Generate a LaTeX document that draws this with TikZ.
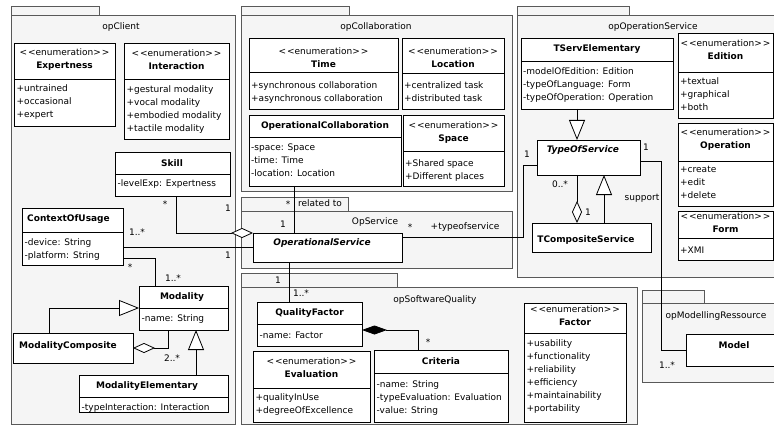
\documentclass[tikz,border=0pt]{standalone}
\usepackage{fontspec}
\setmainfont{DejaVu Sans}
\usetikzlibrary{arrows.meta,positioning,calc}
\newcommand{\stereo}{<\kern1pt<enumeration>\kern1pt>}

\tikzset{
  pkg/.style={draw=black!65, fill=gray!8, line width=0.8pt},
  cls/.style={draw, fill=white, line width=0.8pt, anchor=north west, inner sep=0pt, outer sep=0pt},
  hd/.style={align=center, inner sep=0pt},
  att/.style={align=left, anchor=north west, inner sep=0pt},
  lbl/.style={inner sep=0pt},
  con/.style={line width=0.8pt},
  gen/.style={con, -{Triangle[open, fill=white, length=20pt, width=16pt]}},
  agg/.style={con, -{Diamond[open, fill=white, length=22pt, width=10pt]}},
  comp/.style={con, -{Diamond[length=25pt, width=9pt]}},
}

\begin{document}
\begin{tikzpicture}[x=1pt, y=-1pt, font=\fontsize{9}{13}\selectfont]
  \useasboundingbox (0,0) rectangle (774,425);
  \clip (0,0) rectangle (774,425);

  %Pakete
  \draw[pkg] (11,6) rectangle (99,15);
  \draw[pkg] (11,15) rectangle (235,424);
  \node (p-client) at (121,27) {opClient};
  \draw[pkg] (241,6) rectangle (349,15);
  \draw[pkg] (241,15) rectangle (512,191);
  \node (p-collab) at (376,27) {opCollaboration};
  \draw[pkg] (241,197) rectangle (348,211);
  \draw[pkg] (241,211) rectangle (512,268);
  \node (p-service) at (375,222) {OpService};
  \draw[pkg] (517,6) rectangle (629,15);
  \draw[pkg] (517,15) rectangle (790,277);
  \node (p-operation) at (653,27) {opOperationService};
  \draw[pkg] (241,273) rectangle (397,287);
  \draw[pkg] (241,287) rectangle (637,424);
  \node (p-quality) at (435,300) {opSoftwareQuality};
  \draw[pkg] (642,290) rectangle (704,303);
  \draw[pkg] (642,303) rectangle (790,382);
  \node (p-model) at (716,316) {opModellingRessource};

  %Klassen opClient
  \node[cls, minimum width=101, minimum height=83] (expertness) at (14,43) {};
  \draw[con] (14,79) -- (115,79);
  \node[hd] (expertness-h) at (64.5,59.5) {\stereo\\\textbf{Expertness}};
  \node[att] (expertness-a) at (16.5,84.5) {+untrained\\+occasional\\+expert};

  \node[cls, minimum width=105, minimum height=96] (interaction) at (124,43) {};
  \draw[con] (124,79) -- (229,79);
  \node[hd] (interaction-h) at (176.5,59.5) {\stereo\\\textbf{Interaction}};
  \node[att] (interaction-a) at (126.5,85) {+gestural modality\\+vocal modality\\+embodied modality\\+tactile modality};

  \node[cls, minimum width=115, minimum height=44] (skill) at (115,152) {};
  \draw[con] (115,174) -- (230,174);
  \node[hd] (skill-h) at (172,163) {\textbf{Skill}};
  \node[att] (skill-a) at (117.5,179.5) {-levelExp: Expertness};

  \node[cls, minimum width=101, minimum height=57] (context) at (22,208) {};
  \draw[con] (22,232) -- (123,232);
  \node[hd] (context-h) at (68.5,219) {\textbf{ContextOfUsage}};
  \node[att] (context-a) at (24.5,238.5) {-device: String\\-platform: String};

  \node[cls, minimum width=89, minimum height=44] (modality) at (139,286) {};
  \draw[con] (139,308) -- (228,308);
  \node[hd] (modality-h) at (182,297) {\textbf{Modality}};
  \node[att] (modality-a) at (141.5,314.5) {-name: String};

  \node[cls, minimum width=120, minimum height=30] (modcomp) at (13,333) {};
  \node[hd] (modcomp-h) at (68,346) {\textbf{ModalityComposite}};

  \node[cls, minimum width=149, minimum height=37] (modelem) at (79,375) {};
  \draw[con] (79,397) -- (228,397);
  \node[hd] (modelem-h) at (147,386) {\textbf{ModalityElementary}};
  \node[att] (modelem-a) at (81.5,403.5) {-typeInteraction: Interaction};

  %Klassen opCollaboration
  \node[cls, minimum width=149, minimum height=71] (time) at (249,38) {};
  \draw[con] (249,72) -- (398,72);
  \node[hd] (time-h) at (323.5,57.5) {\stereo\\\textbf{Time}};
  \node[att] (time-a) at (251,81.5) {+synchronous collaboration\\+asynchronous collaboration};

  \node[cls, minimum width=102, minimum height=71] (location) at (402,38) {};
  \draw[con] (402,73) -- (504,73);
  \node[hd] (location-h) at (453,57.5) {\stereo\\\textbf{Location}};
  \node[att] (location-a) at (404,81.5) {+centralized task\\+distributed task};

  \node[cls, minimum width=152, minimum height=71] (opcollab) at (249,115) {};
  \draw[con] (249,137) -- (401,137);
  \node[hd] (opcollab-h) at (325,126.5) {\textbf{OperationalCollaboration}};
  \node[att] (opcollab-a) at (251,144) {-space: Space\\-time: Time\\-location: Location};

  \node[cls, minimum width=101, minimum height=71] (space) at (403,115) {};
  \draw[con] (403,151) -- (504,151);
  \node[hd] (space-h) at (453.5,132.5) {\stereo\\\textbf{Space}};
  \node[att] (space-a) at (405,159) {+Shared space\\+Different places};

  %Klasse OpService
  \node[cls, minimum width=149, minimum height=29] (opservice) at (253,233) {};
  \node[hd] (opservice-h) at (322,243.5) {\textbf{\textit{OperationalService}}};

  %Klassen opOperationService
  \node[cls, minimum width=152, minimum height=71] (tservelem) at (521,38) {};
  \draw[con] (521,61) -- (673,61);
  \node[hd] (tservelem-h) at (597,49.5) {\textbf{TServElementary}};
  \node[att] (tservelem-a) at (523,67.5) {-modelOfEdition: Edition\\-typeOfLanguage: Form\\-typeOfOperation: Operation};

  \node[cls, minimum width=95, minimum height=85] (edition) at (678,33) {};
  \draw[con] (678,72) -- (773,72);
  \node[hd] (edition-h) at (725.5,50) {\stereo\\\textbf{Edition}};
  \node[att] (edition-a) at (680,77) {+textual\\+graphical\\+both};

  \node[cls, minimum width=95, minimum height=83] (operation) at (678,123) {};
  \draw[con] (678,161) -- (773,161);
  \node[hd] (operation-h) at (725.5,140) {\stereo\\\textbf{Operation}};
  \node[att] (operation-a) at (680,165.5) {+create\\+edit\\+delete};

  \node[cls, minimum width=95, minimum height=49] (form) at (678,211) {};
  \draw[con] (678,238) -- (773,238);
  \node[hd] (form-h) at (725.5,222.5) {\stereo\\\textbf{Form}};
  \node[att] (form-a) at (680,246.5) {+XMI};

  \node[cls, minimum width=103, minimum height=35] (typeofservice) at (537,140) {};
  \node[hd] (typeofservice-h) at (583,150) {\textbf{\textit{TypeOfService}}};

  \node[cls, minimum width=119, minimum height=29] (tcomposite) at (532,223) {};
  \node[hd] (tcomposite-h) at (586,240) {\textbf{TCompositeService}};

  %Klasse opModellingRessource
  \node[cls, minimum width=96, minimum height=32] (model) at (686,334) {};
  \node[hd] (model-h) at (734,345) {\textbf{Model}};

  %Klassen opSoftwareQuality
  \node[cls, minimum width=105, minimum height=44] (qualityfactor) at (257,302) {};
  \draw[con] (257,324) -- (362,324);
  \node[hd] (qualityfactor-h) at (309.5,313.5) {\textbf{QualityFactor}};
  \node[att] (qualityfactor-a) at (259.5,331.5) {-name: Factor};

  \node[cls, minimum width=117, minimum height=71] (evaluation) at (253,351) {};
  \draw[con] (253,388) -- (370,388);
  \node[hd] (evaluation-h) at (311.5,367.5) {\stereo\\\textbf{Evaluation}};
  \node[att] (evaluation-a) at (255.5,393) {+qualityInUse\\+degreeOfExcellence};

  \node[cls, minimum width=134, minimum height=72] (criteria) at (374,350) {};
  \draw[con] (374,373) -- (508,373);
  \node[hd] (criteria-h) at (441,361) {\textbf{Criteria}};
  \node[att] (criteria-a) at (376.5,380.5) {-name: String\\-typeEvaluation: Evaluation\\-value: String};

  \node[cls, minimum width=102, minimum height=119] (factor) at (524,303) {};
  \draw[con] (524,333) -- (626,333);
  \node[hd] (factor-h) at (575,316) {\stereo\\\textbf{Factor}};
  \node[att] (factor-a) at (526.5,339.5) {+usability\\+functionality\\+reliability\\+efficiency\\+maintainability\\+portability};

  %Verbindungen
  \draw[agg] ([xshift=3.5]skill.south) |- (opservice.north west);
  \draw[con] (context.east |- opservice.west) -- (opservice.west);
  \draw[con] ([yshift=-21.5]context.east) -| ([xshift=-28.5]modality.north);
  \draw[gen] ([xshift=-24]modcomp.north) |- (modality.west);
  \draw[agg] ([xshift=-15.5]modality.south) |- (modcomp.east);
  \coordinate (me) at ([xshift=42.5]modelem.north);
  \draw[gen] (me) -- (me |- modality.south);
  \coordinate (oc) at ([xshift=-31]opcollab.south);
  \draw[con] (oc) -- (oc |- opservice.north);
  \draw[con] ([yshift=10.5]opservice.east) -- ++(121,0) |- ([yshift=-7.5]typeofservice.west);
  \coordinate (ts) at ([xshift=-20]tservelem.south);
  \draw[gen] (ts) -- (ts |- typeofservice.north);
  \coordinate (tc) at ([xshift=-11.5]typeofservice.south);
  \draw[agg] (tc) -- (tc |- tcomposite.north);
  \coordinate (tg) at ([xshift=12.5]tcomposite.north);
  \draw[gen] (tg) -- (tg |- typeofservice.south);
  \draw[con] ([yshift=-3.5]typeofservice.east) -- ++(21,0) |- (model.west);
  \coordinate (oq) at ([xshift=-38.5]opservice.south);
  \draw[con] (oq) -- (oq |- qualityfactor.north);
  \coordinate (cq) at ([xshift=-23]criteria.north);
  \draw[comp] (cq) |- ([yshift=-6]qualityfactor.east);

  %Multiplizitaeten und Rollen
  \node[lbl] (m-skill) at (165,204) {*};
  \node[lbl] (m-os1) at (228,208) {1};
  \node[lbl] (m-ctx1) at (137,232) {1..*};
  \node[lbl] (m-os2) at (228,255) {1};
  \node[lbl] (m-ctx2) at (130,267) {*};
  \node[lbl] (m-mod1) at (173,278) {1..*};
  \node[lbl] (m-mod2) at (172,358) {2..*};
  \node[lbl] (m-oc) at (288,204) {*};
  \node[lbl] (rel) at (320,203) {related to};
  \node[lbl] (m-os3) at (283,224) {1};
  \node[lbl] (m-os4) at (410,227) {*};
  \node[lbl] (role) at (465,227) {+typeofservice};
  \node[lbl] (m-ts1) at (527,154) {1};
  \node[lbl] (m-ts2) at (560,184) {0..*};
  \node[lbl] (m-tc) at (588,212) {1};
  \node[lbl] (sup) at (642,198) {support};
  \node[lbl] (m-ts3) at (646,147) {1};
  \node[lbl] (m-model) at (667,365) {1..*};
  \node[lbl] (m-os5) at (278,280) {1};
  \node[lbl] (m-qf) at (301,293) {1..*};
  \node[lbl] (m-crit) at (428,342) {*};
\end{tikzpicture}
\end{document}
